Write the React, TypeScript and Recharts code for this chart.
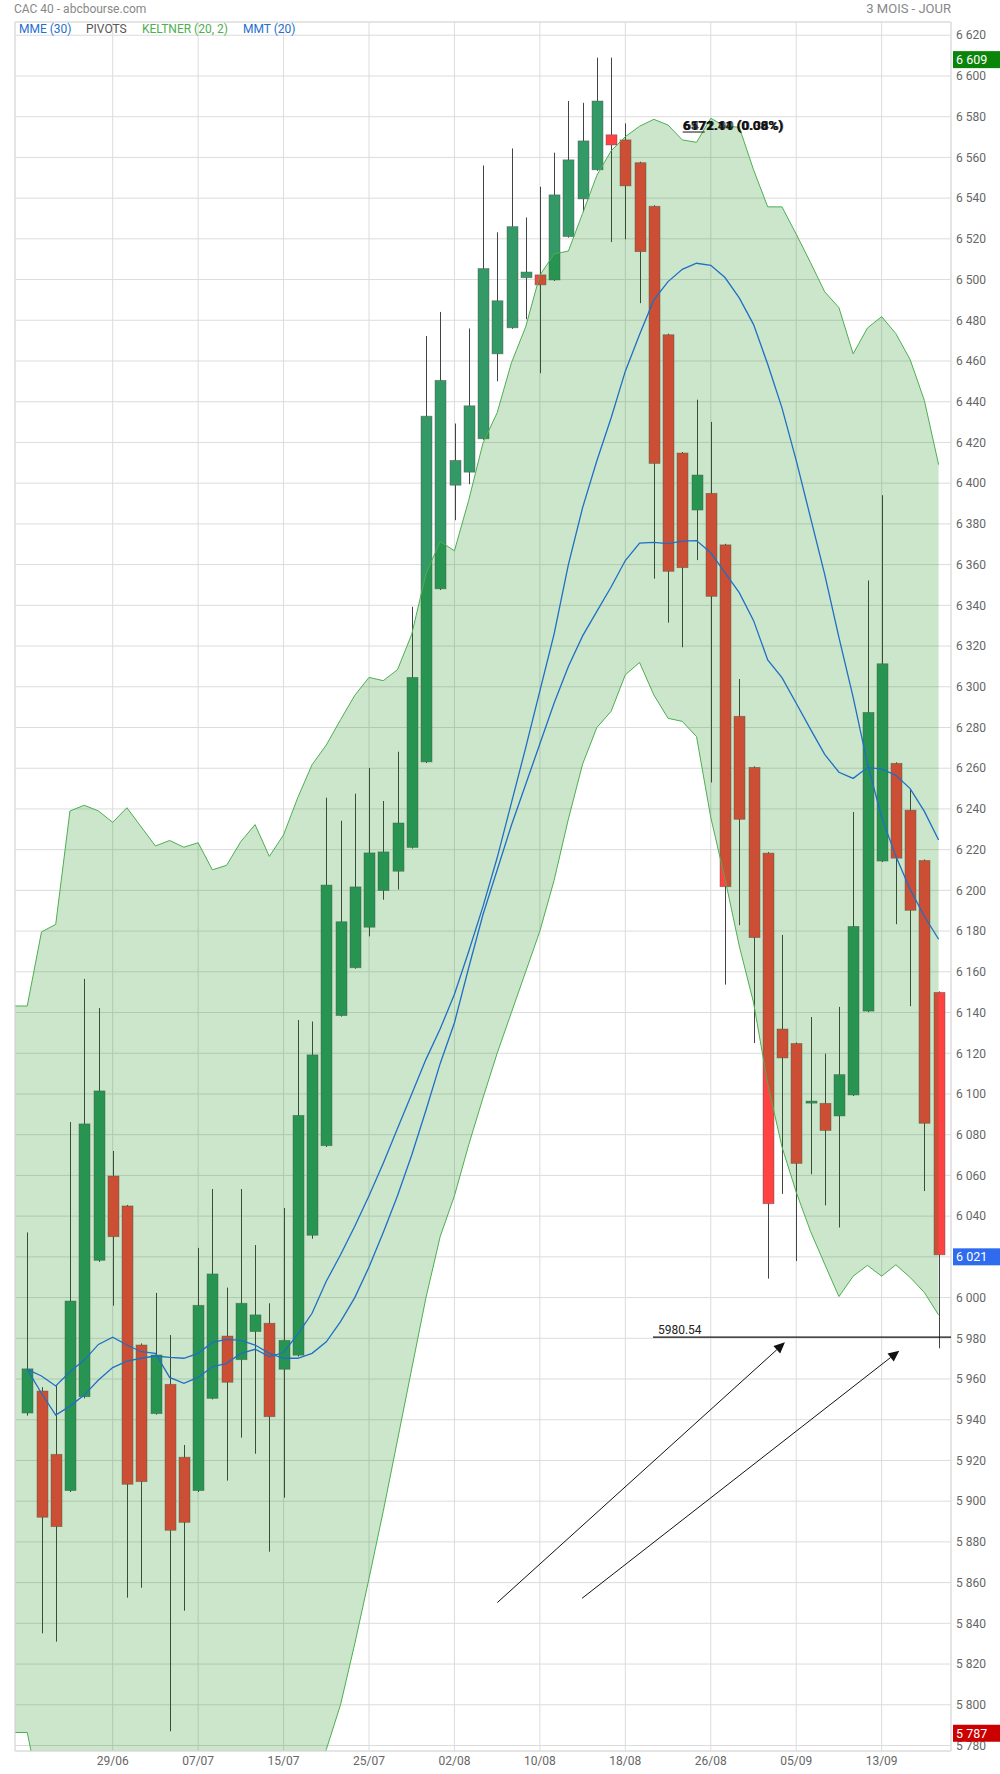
import React from "react"
import {
  ComposedChart, Bar, Area, Line, XAxis, YAxis, CartesianGrid,
  ReferenceLine, ReferenceDot,
} from "recharts"

// CAC 40, daily candles 21/06 -> 19/09
const opens = [
  5943.3, 5954.1, 5923, 5905.2, 5951.3, 6018.3, 6059.7, 6045, 5976.7, 5943,
  5957.4, 5921.6, 5905.2, 5950.5, 5981.1, 5969.5, 5983.3, 5987.4, 5964.8, 5971.7,
  6030.6, 6074.6, 6138.5, 6162, 6181.9, 6199.9, 6209.4, 6221.1, 6263.1, 6348.1,
  6399, 6405.4, 6421.8, 6463.5, 6476.3, 6500.9, 6502.3, 6499.8, 6521.1, 6539.6,
  6553.9, 6571.1, 6568.6, 6557.4, 6536, 6472.9, 6414.8, 6386.8, 6395, 6369.7,
  6285.5, 6260.4, 6218.3, 6131.9, 6124.8, 6095.5, 6095.4, 6089.2, 6099.5, 6140.7,
  6214.4, 6262.4, 6239.4, 6214.7, 6149.9,
]
const highs = [
  6032, 5956, 5956.6, 6086.2, 6156.5, 6142.2, 6072, 6045.5, 5977.5, 6002.3,
  5981.6, 5927.6, 6024.4, 6053.3, 6004.9, 6053.3, 6025.8, 5997.2, 6044, 6136.3,
  6135.6, 6245.5, 6234.2, 6247.5, 6260.1, 6243.9, 6268.1, 6339.3, 6472.3, 6484.1,
  6429.3, 6476, 6556, 6523.2, 6564.4, 6530.5, 6545.6, 6562.3, 6587.7, 6586.8,
  6609, 6609, 6576.7, 6557.9, 6536.5, 6473.4, 6415.3, 6441, 6430.1, 6370.2,
  6303.8, 6260.9, 6218.8, 6178.1, 6125.3, 6137.8, 6119.8, 6142.8, 6238.5, 6352.2,
  6394.1, 6262.9, 6249.4, 6215.2, 6150.4,
]
const lows = [
  5942, 5835.1, 5831, 5904.5, 5950.5, 6017.5, 5996, 5852.6, 5857.5, 5942.5,
  5787, 5846.2, 5904.5, 5950, 5910.1, 5931.2, 5923.3, 5875.2, 5901.7, 5971,
  6028.9, 6074, 6138, 6161.5, 6177.4, 6195.4, 6200.4, 6220.5, 6262.5, 6347.5,
  6381.8, 6399.5, 6421.3, 6450, 6475.8, 6480.5, 6454, 6499.3, 6520.6, 6533.2,
  6553.4, 6518.4, 6519.8, 6488.4, 6353.1, 6331.5, 6319.4, 6362.2, 6253, 6153.7,
  6182.9, 6125, 6009.3, 6050.9, 6017.9, 6060.6, 6045.3, 6034.4, 6099, 6140.2,
  6213.9, 6183.4, 6143.1, 6052.3, 5975.1,
]
const closes = [
  5965, 5892.1, 5887.5, 5998.3, 6085.3, 6101.5, 6029.9, 5908.3, 5909.6, 5971.8,
  5885.7, 5889.6, 5996.2, 6011.6, 5958.4, 5997.2, 5991.5, 5941.5, 5979, 6089.5,
  6119.2, 6202.6, 6184.6, 6201.7, 6218.4, 6218.9, 6233.1, 6304.6, 6432.9, 6450.5,
  6411.2, 6438, 6505.4, 6489.6, 6526, 6503.7, 6497.4, 6541.6, 6558.8, 6568.1,
  6587.7, 6566.1, 6546, 6513.7, 6409.7, 6356.7, 6358.5, 6404, 6344.4, 6201.8,
  6234.9, 6176.8, 6046.1, 6117.7, 6065.9, 6096.5, 6082.1, 6109.5, 6182.3, 6287.4,
  6311.3, 6215.8, 6190.2, 6085.6, 6021,
]

// Keltner (20, 2)
const keltnerUp = [
  6143.2, 6179.6, 6183.3, 6239, 6241.8, 6239, 6233.4, 6240.6, 6231.2, 6221.8,
  6224.5, 6221.2, 6223.4, 6210.1, 6212.3, 6224, 6232.3, 6216.7, 6227.3, 6245.6,
  6261.7, 6271.4, 6283.8, 6295.8, 6304.6, 6303, 6308.4, 6325.8, 6355.5, 6371.3,
  6366.8, 6391.6, 6419.6, 6434.6, 6459.1, 6476.7, 6502.1, 6512.6, 6514, 6532.5,
  6551.2, 6563.2, 6570.2, 6575.3, 6578.7, 6575.9, 6568.6, 6567.4, 6579.2, 6575.4,
  6574.8, 6554, 6535.7, 6535.7, 6522.3, 6508.4, 6494, 6486.2, 6463.5, 6476.2,
  6481.8, 6473.4, 6460.7, 6440.6, 6409.1,
]
const keltnerDown = [
  5786.4, 5752, 5722, 5695, 5690, 5692, 5698, 5692, 5700, 5710,
  5708, 5714, 5715, 5728, 5726, 5720, 5716, 5726, 5720, 5738,
  5757, 5778, 5800, 5830, 5862, 5895, 5930, 5965, 6000, 6030,
  6050, 6075, 6098, 6120, 6140, 6160, 6180, 6205, 6235, 6262,
  6280, 6287.9, 6305.9, 6311.9, 6296, 6284.5, 6283, 6275.5, 6235.8, 6205.7,
  6172.7, 6145, 6105, 6074, 6051.8, 6032.6, 6016.4, 6000.5, 6010.5, 6015.8,
  6010.5, 6016.1, 6009.9, 6002.5, 5991.4,
]

// MMT (20) - the faster line
const mmt20 = [
  5964.7, 5961.5, 5956.6, 5963.6, 5969.3, 5977, 5980.5, 5976.7, 5973.4, 5972.6,
  5960.8, 5957.9, 5960.8, 5966, 5967.7, 5972.6, 5974.6, 5971, 5973, 5982.1,
  5992.3, 6008, 6021, 6035, 6050, 6066, 6083, 6100, 6117, 6132,
  6149, 6170, 6192, 6216, 6243, 6270, 6298, 6326, 6360, 6388,
  6411, 6432, 6455, 6473, 6490, 6499, 6505, 6508, 6507, 6501,
  6491, 6478, 6458.4, 6437, 6411.2, 6383.2, 6355.2, 6324.3, 6294.8, 6262.4,
  6235.9, 6216.7, 6200.5, 6187.3, 6176,
]
// MME (30)
const mme30 = [
  5964.7, 5953, 5942.3, 5946.7, 5952.1, 5959.5, 5965.6, 5968.8, 5970.2, 5971.3,
  5970.6, 5970.2, 5972.6, 5978, 5979.5, 5979, 5976.7, 5972.6, 5970.2, 5970.2,
  5972.6, 5978.3, 5988.2, 6000, 6015, 6032, 6050, 6070, 6092, 6115,
  6135, 6162, 6188, 6210, 6232, 6252, 6272, 6292, 6310, 6325,
  6337, 6349, 6362, 6370.6, 6370.9, 6370.3, 6371.5, 6371.8, 6365.8, 6356.1,
  6346.2, 6332.6, 6313.2, 6304.5, 6291.9, 6279.2, 6266.8, 6258, 6255, 6260.3,
  6259.7, 6256.5, 6250, 6238.8, 6224.7,
]

const dateTicks = [6, 12, 18, 24, 30, 36, 42, 48, 54, 60]
const dateLabels = ["29/06", "07/07", "15/07", "25/07", "02/08", "10/08", "18/08", "26/08", "05/09", "13/09"]
const priceTicks = [
  5780, 5800, 5820, 5840, 5860, 5880, 5900, 5920, 5940, 5960, 5980,
  6000, 6020, 6040, 6060, 6080, 6100, 6120, 6140, 6160, 6180,
  6200, 6220, 6240, 6260, 6280, 6300, 6320, 6340, 6360, 6380,
  6400, 6420, 6440, 6460, 6480, 6500, 6520, 6540, 6560, 6580, 6600, 6620,
]

const X_MIN = -0.86
const X_MAX = 64.87
const Y_MIN = 5777.3
const Y_MAX = 6626.5

const rows: any[] = [
  { x: X_MIN, band: [keltnerDown[0], keltnerUp[0]] },
  ...opens.map((o, i) => ({
    x: i,
    o, h: highs[i], l: lows[i], c: closes[i],
    range: [lows[i], highs[i]],
    band: [keltnerDown[i], keltnerUp[i]],
    mmt: mmt20[i],
    mme: mme30[i],
  })),
]

const fmt = (v: number) => {
  const s = String(Math.round(v))
  return s.length > 3 ? s.slice(0, s.length - 3) + " " + s.slice(-3) : s
}

function Candle(props: any) {
  const { x, y, width, height, payload } = props
  if (!payload || payload.o == null || !height) return null
  const { o, h, l, c } = payload
  const px = (v: number) => y + ((h - v) / (h - l)) * height
  const cx = Math.round(x + width / 2) + 0.5
  const up = c >= o
  const top = px(Math.max(o, c))
  const bot = px(Math.min(o, c))
  const bw = 11
  return (
    <g>
      <line x1={cx} x2={cx} y1={y} y2={y + height} stroke="#444" strokeWidth={1} />
      <rect x={cx - bw / 2} y={top} width={bw} height={Math.max(1, bot - top)}
        fill={up ? "#339966" : "#ff4242"} stroke="#555" strokeOpacity={0.55} strokeWidth={0.8} />
    </g>
  )
}

function PriceTag(props: any) {
  const { viewBox, text, bg } = props
  if (!viewBox) return null
  const x = viewBox.x + viewBox.width + 2
  const y = viewBox.y + 2
  return (
    <g>
      <rect x={x} y={y - 8.5} width={48} height={17} fill={bg} />
      <text x={x + 3} y={y} dy="0.36em" fill="#fff" fontSize={12.5} fontFamily="Roboto">{text}</text>
    </g>
  )
}

function Arrow(props: any) {
  const { x1, y1, x2, y2 } = props
  if (x1 == null) return null
  const ang = Math.atan2(y2 - y1, x2 - x1)
  const len = 11, half = 5
  const bx = x2 - len * Math.cos(ang), by = y2 - len * Math.sin(ang)
  const p1 = `${bx + half * Math.sin(ang)},${by - half * Math.cos(ang)}`
  const p2 = `${bx - half * Math.sin(ang)},${by + half * Math.cos(ang)}`
  return (
    <g>
      <line x1={x1} y1={y1} x2={bx} y2={by} stroke="#111" strokeWidth={1} />
      <polygon points={`${x2},${y2} ${p1} ${p2}`} fill="#111" />
    </g>
  )
}

function LevelLine(props: any) {
  const { x1, y1, x2, y2 } = props
  if (x1 == null) return null
  return (
    <g>
      <line x1={x1} y1={y1} x2={x2} y2={y2} stroke="#111" strokeWidth={1.2} />
      <text x={x1 + 5} y={y1 - 3} fontSize={12} fill="#222" fontFamily="Roboto">5980.54</text>
    </g>
  )
}

function StackedText(props: any) {
  const { cx, cy } = props
  if (cx == null) return null
  const st = { fontSize: 13.5, fontFamily: "Roboto", fontWeight: 700, fill: "#111" }
  return (
    <g>
      <text x={cx} y={cy} dy="0.35em" {...st}>6172.11 (0.08%)</text>
      <text x={cx} y={cy} dy="0.35em" {...st} fillOpacity={0.8}>6571.44 (0.06%)</text>
      <text x={cx + 1} y={cy} dy="0.35em" {...st} fillOpacity={0.6}>6472.00 (0.34%)</text>
      <line x1={cx} x2={cx + 22} y1={cy + 7} y2={cy + 7} stroke="#111" strokeWidth={1} />
    </g>
  )
}

const legend = [
  { t: "MME (30)", c: "#1e6fd0", x: 19 },
  { t: "PIVOTS", c: "#555", x: 86 },
  { t: "KELTNER (20, 2)", c: "#4caf50", x: 142 },
  { t: "MMT (20)", c: "#1e6fd0", x: 243 },
]

export default function App() {
  const font = "Roboto, 'Noto Sans', sans-serif"
  return (
    <div style={{ position: "relative", width: 1000, height: 1774, background: "#fff", fontFamily: font }}>
      <style>{"body{margin:0}"}</style>
      <ComposedChart width={1000} height={1774} data={rows}
        margin={{ top: 22, right: 0, left: 15, bottom: 0 }}>
        <CartesianGrid stroke="#dcdcdc" strokeWidth={1} />
        <XAxis dataKey="x" type="number" domain={[X_MIN, X_MAX]} allowDataOverflow
          ticks={dateTicks} interval={0} height={23}
          tickFormatter={(v: number) => dateLabels[dateTicks.indexOf(v)] ?? ""}
          tick={{ fontSize: 12, fill: "#666", fontFamily: font }}
          axisLine={false} tickLine={false} tickSize={0} tickMargin={5} />
        <YAxis orientation="right" width={49} domain={[Y_MIN, Y_MAX]} allowDataOverflow
          ticks={priceTicks} interval={0} tickFormatter={fmt}
          tick={{ fontSize: 12, fill: "#666", fontFamily: font }}
          axisLine={false} tickLine={false} tickSize={0} tickMargin={5} />

        <ReferenceLine x={X_MIN} stroke="#dcdcdc" ifOverflow="visible" />
        <ReferenceLine x={X_MAX} stroke="#dcdcdc" ifOverflow="visible" />
        <ReferenceLine y={Y_MAX} stroke="#dcdcdc" ifOverflow="visible" />
        <ReferenceLine y={Y_MIN} stroke="#dcdcdc" ifOverflow="visible" />

        <Bar dataKey="range" shape={<Candle />} isAnimationActive={false} />
        <Area dataKey="band" type="linear" stroke="#4caf50" strokeWidth={1}
          fill="#008000" fillOpacity={0.2} dot={false} activeDot={false}
          isAnimationActive={false} zIndex={350} />
        <Line dataKey="mme" type="linear" stroke="#1f6fc4" strokeWidth={1.3} dot={false}
          isAnimationActive={false} />
        <Line dataKey="mmt" type="linear" stroke="#1f6fc4" strokeWidth={1.3} dot={false}
          isAnimationActive={false} />

        <ReferenceLine segment={[{ x: 43.94, y: 5980.54 }, { x: X_MAX, y: 5980.54 }]}
          shape={<LevelLine />} ifOverflow="visible" />
        <ReferenceLine segment={[{ x: 33.01, y: 5850.2 }, { x: 53.21, y: 5978 }]}
          shape={<Arrow />} ifOverflow="visible" />
        <ReferenceLine segment={[{ x: 38.96, y: 5852.3 }, { x: 61.24, y: 5973.9 }]}
          shape={<Arrow />} ifOverflow="visible" />
        <ReferenceDot x={46.03} y={6575.9} r={0} shape={<StackedText />} ifOverflow="visible" />

        <ReferenceLine y={6609} stroke="none" ifOverflow="visible" zIndex={2100}
          label={<PriceTag text="6 609" bg="#0a850a" />} />
        <ReferenceLine y={6021} stroke="none" ifOverflow="visible" zIndex={2100}
          label={<PriceTag text="6 021" bg="#2f6bef" />} />
        <ReferenceLine y={5787} stroke="none" ifOverflow="visible" zIndex={2100}
          label={<PriceTag text="5 787" bg="#cc0000" />} />
      </ComposedChart>

      <div style={{ position: "absolute", left: 14, top: 0, fontSize: 12, color: "#888", lineHeight: "18px" }}>
        CAC 40 - abcbourse.com
      </div>
      <div style={{ position: "absolute", right: 49, top: 0, fontSize: 13, color: "#888", lineHeight: "18px" }}>
        3 MOIS - JOUR
      </div>
      {legend.map((l) => (
        <div key={l.t} style={{ position: "absolute", left: l.x, top: 21, fontSize: 12, color: l.c, lineHeight: "16px" }}>
          {l.t}
        </div>
      ))}
    </div>
  )
}
